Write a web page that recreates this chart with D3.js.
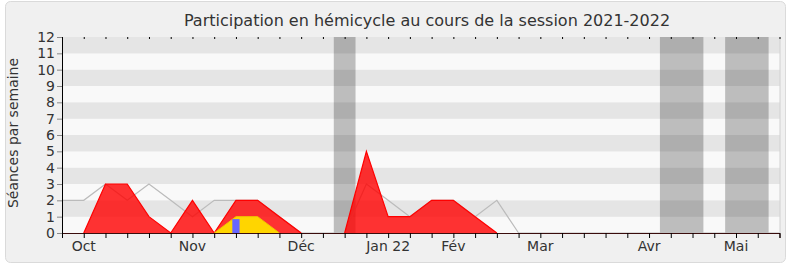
<!DOCTYPE html>
<html>
<head>
<meta charset="utf-8">
<script src="https://cdn.jsdelivr.net/npm/d3@7"></script>
<style>
  body { margin: 0; background: #fff; }
  text { font-family: "DejaVu Sans", sans-serif; fill: #333; }
</style>
</head>
<body>
<div id="chart"></div>
<script>
// weekly values, week 0 = first week of the session
const weeks = [0,1,2,3,4,5,6,7,8,9,10,11,12,13,14,15,16,17,18,19,20,21,22,23,24,25,26,27,28,29,30,31,32,33];
const presence = [0,0,3,3,1,0,2,0,2,2,1,0,0,0,5,1,1,2,2,1,0,0,0,0,0,0,0,0,0,0,0,0,0,0];
const median =   [2,2,3,2,3,2,1,2,2,2,1,0,0,0,3,2,1,2,2,1,2,0,0,0,0,0,0,0,0,0,0,0,0,0];
const interventions = [0,0,0,0,0,0,0,0,1,1,0,0,0,0,0,0,0,0,0,0,0,0,0,0,0,0,0,0,0,0,0,0,0,0];
const questions = [{week: 8, value: 0.85}];
const vacations = [[12.5, 13.5], [27.5, 29.5], [30.5, 32.5]];
const monthWeeks = [1, 6, 11, 15, 18, 22, 27, 31];
const monthLabels = ["Oct", "Nov", "Déc", "Jan 22", "Fév", "Mar", "Avr", "Mai"];
const yTicks = [0,1,2,3,4,5,6,7,8,9,10,11,12];

const chart = {
  width: 790, height: 267,
  margin: {top: 37, right: 10, bottom: 34, left: 62},
  scale: { x: d3.scaleLinear(), y: d3.scaleLinear() }
};

function drawChart(){
  const m = chart.margin;
  chart.scale.x.domain([0, 33]).range([m.left, chart.width - m.right - 0.5]);
  chart.scale.y.domain([0, 12]).range([chart.height - m.bottom, m.top]);
  const x = chart.scale.x, y = chart.scale.y;

  let svg = d3.select("#chart").append("svg")
    .attr("width", chart.width).attr("height", chart.height);

  svg.append("rect")
    .attr("x", 5.5).attr("y", 1.5).attr("width", 780).attr("height", 261)
    .attr("rx", 5).attr("fill", "#f0f0f0").attr("stroke", "#dadada");

  // stripes
  svg.append("g").selectAll("rect")
    .data(yTicks.slice(0, 12))
    .enter().append("rect")
    .attr("x", x(0)).attr("width", x(33) - x(0) + 0.5)
    .attr("y", d => y(d + 1)).attr("height", d => y(d) - y(d + 1))
    .attr("fill", d => d % 2 ? "#e5e5e5" : "#f9f9f9");

  svg.append("line")
    .attr("x1", x(33) + 0.5).attr("x2", x(33) + 0.5)
    .attr("y1", y(12)).attr("y2", y(0))
    .attr("stroke", "#d0d0d0");

  svg.append("g").selectAll("rect")
    .data(vacations)
    .enter().append("rect")
    .attr("x", d => x(d[0])).attr("width", d => x(d[1]) - x(d[0]))
    .attr("y", y(12)).attr("height", y(0) - y(12))
    .attr("fill", "rgba(0,0,0,0.24)");

  const area = d3.area().x((d, i) => x(weeks[i])).y0(y(0)).y1(d => y(d));
  const line = d3.line().x((d, i) => x(weeks[i])).y(d => y(d));
  // outline only where the series leaves zero, so the baseline stays dark
  const edge = d3.line().x((d, i) => x(weeks[i])).y(d => y(d))
    .defined((d, i, arr) => d > 0 || arr[i - 1] > 0 || arr[i + 1] > 0);

  svg.append("path").datum(median)
    .attr("d", line).attr("fill", "none").attr("stroke", "#bbb").attr("stroke-width", 1.2);

  svg.append("path").datum(presence)
    .attr("d", area).attr("fill", "rgba(255,0,0,0.8)");
  svg.append("path").datum(presence)
    .attr("d", edge).attr("fill", "none").attr("stroke", "#ff0000").attr("stroke-width", 1.2);

  svg.append("path").datum(interventions)
    .attr("d", area).attr("fill", "#ffd500");
  svg.append("path").datum(interventions)
    .attr("d", edge).attr("fill", "none").attr("stroke", "#f0c400").attr("stroke-width", 1);

  const bw = (x(1) - x(0)) / 3;
  svg.append("g").selectAll("rect")
    .data(questions)
    .enter().append("rect")
    .attr("x", d => x(d.week) - bw / 2).attr("width", bw)
    .attr("y", d => y(d.value)).attr("height", d => y(0) - y(d.value))
    .attr("fill", "#6666ff");

  // axes
  let yAxis = svg.append("g").attr("transform", "translate(" + x(0) + ",0)")
    .call(d3.axisLeft(y).tickValues(yTicks).tickSize(5).tickPadding(2));
  yAxis.select(".domain").attr("stroke", "#000");
  yAxis.selectAll(".tick line").attr("stroke", "#888");
  yAxis.selectAll("text").style("font-size", "14px").attr("fill", "#333");

  let xAxis = svg.append("g").attr("transform", "translate(0," + y(0) + ")")
    .call(d3.axisBottom(x).tickValues(weeks).tickSize(5).tickFormat(""));
  xAxis.select(".domain").attr("stroke", "#3a0c0c");

  svg.append("g").attr("transform", "translate(0," + y(12) + ")")
    .call(d3.axisBottom(x).tickValues(weeks).tickSize(2).tickFormat(""))
    .select(".domain").remove();

  svg.append("g").selectAll("text")
    .data(monthWeeks)
    .enter().append("text")
    .attr("x", d => x(d)).attr("y", 251)
    .attr("text-anchor", "middle")
    .style("font-size", "14px")
    .text((d, i) => monthLabels[i]);

  svg.append("text")
    .attr("transform", "translate(18," + 133 + ") rotate(-90)")
    .attr("text-anchor", "middle")
    .style("font-size", "14px")
    .text("Séances par semaine");

  svg.append("text")
    .attr("x", 427).attr("y", 26)
    .attr("text-anchor", "middle")
    .style("font-size", "16px")
    .text("Participation en hémicycle au cours de la session 2021-2022");
}

drawChart();
</script>
</body>
</html>
